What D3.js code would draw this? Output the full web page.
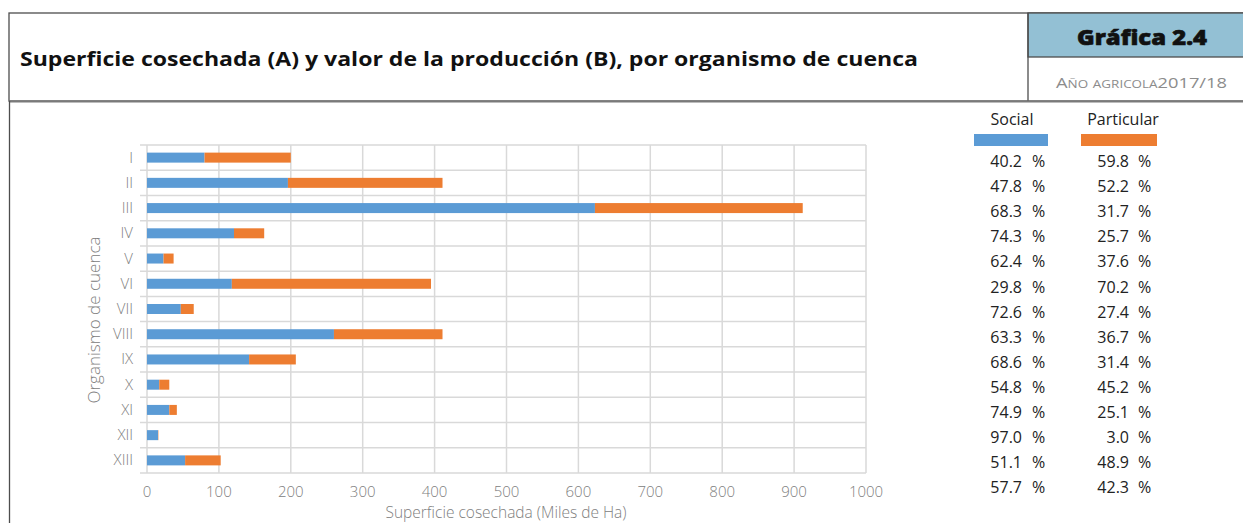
<!DOCTYPE html>
<html>
<head>
<meta charset="utf-8">
<script src="https://cdn.jsdelivr.net/npm/d3@7"></script>
<style>
  body { margin: 0; background: #fff; }
  svg { display: block; font-family: "Open Sans", "Noto Sans", sans-serif; }
</style>
</head>
<body>
<svg id="chart" width="1243" height="523"></svg>
<script>
// organismos de cuenca
const cuencas = ['I','II','III','IV','V','VI','VII','VIII','IX','X','XI','XII','XIII']
// superficie cosechada, miles de ha
const social     = [80, 196, 623, 121, 23, 118, 47, 260, 142, 17, 31, 15.3, 53]
const particular = [120, 215, 289, 42, 14, 277, 18, 151, 65, 14, 10.5, 0.5, 49.5]
// porcentajes del valor de la producción
const socialPct     = [40.2, 47.8, 68.3, 74.3, 62.4, 29.8, 72.6, 63.3, 68.6, 54.8, 74.9, 97.0, 51.1, 57.7]
const particularPct = [59.8, 52.2, 31.7, 25.7, 37.6, 70.2, 27.4, 36.7, 31.4, 45.2, 25.1, 3.0, 48.9, 42.3]
const xTicks = [0,100,200,300,400,500,600,700,800,900,1000]

const colors = {social: '#5B9BD5', particular: '#ED7D31'}
const svg = d3.select('#chart')

// ---- header box ----
const border = '#4d4d4d'
svg.append('rect').attr('x', 9).attr('y', 13).attr('width', 1240).attr('height', 88)
   .attr('fill', 'none').attr('stroke', border).attr('stroke-width', 1.3)
svg.append('rect').attr('x', 1028).attr('y', 13).attr('width', 220).attr('height', 44)
   .attr('fill', '#93C0D4').attr('stroke', border).attr('stroke-width', 1.3)
svg.append('line').attr('x1', 1028).attr('x2', 1028).attr('y1', 13).attr('y2', 101)
   .attr('stroke', border).attr('stroke-width', 1.3)
svg.append('line').attr('x1', 9).attr('x2', 1243).attr('y1', 101.5).attr('y2', 101.5)
   .attr('stroke', '#7a7a7a').attr('stroke-width', 2)
svg.append('line').attr('x1', 9.5).attr('x2', 9.5).attr('y1', 101).attr('y2', 523)
   .attr('stroke', border).attr('stroke-width', 1.3)

svg.append('text').attr('x', 20).attr('y', 66)
   .attr('font-size', 19).attr('font-weight', 700).attr('fill', '#111')
   .attr('textLength', 898).attr('lengthAdjust', 'spacingAndGlyphs')
   .text('Superficie cosechada (A) y valor de la producción (B), por organismo de cuenca')
svg.append('text').attr('x', 1077).attr('y', 45)
   .attr('font-family', '"Open Sans", sans-serif')
   .attr('font-size', 21).attr('font-weight', 800).attr('fill', '#111')
   .attr('stroke', '#111').attr('stroke-width', 0.6)
   .attr('textLength', 130).attr('lengthAdjust', 'spacingAndGlyphs')
   .text('Gráfica 2.4')
svg.append('text').attr('x', 1056).attr('y', 88)
   .attr('font-size', 15).attr('fill', '#8c8c8c').style('font-variant', 'small-caps')
   .attr('textLength', 171).attr('lengthAdjust', 'spacingAndGlyphs')
   .text('Año agricola2017/18')

// ---- chart ----
const x = d3.scaleLinear().domain([0, 1000]).range([147, 866])
const y = d3.scaleBand().domain(cuencas).range([145, 473])
const barH = 10
const grid = '#d9d9d9', tickCol = '#808080'

const g = svg.append('g')
g.selectAll('line.v').data(xTicks).join('line').attr('class', 'v')
 .attr('x1', d => x(d)).attr('x2', d => x(d)).attr('y1', 145).attr('y2', 473)
 .attr('stroke', grid).attr('stroke-width', 1.5)
g.selectAll('line.h').data([...cuencas.map(c => y(c)), 473]).join('line').attr('class', 'h')
 .attr('x1', 140).attr('x2', 866).attr('y1', d => d).attr('y2', d => d)
 .attr('stroke', grid).attr('stroke-width', 1.5)

const rows = cuencas.map((c, i) => ({cuenca: c, social: social[i], particular: particular[i]}))
const series = d3.stack().keys(['social', 'particular'])(rows)
g.selectAll('g.s').data(series).join('g').attr('class', 's')
 .attr('fill', d => colors[d.key])
 .selectAll('rect').data(d => d).join('rect')
 .attr('x', d => x(d[0])).attr('width', d => x(d[1]) - x(d[0]))
 .attr('y', d => y(d.data.cuenca) + (y.bandwidth() - barH) / 2).attr('height', barH)

// category labels
g.selectAll('text.cat').data(cuencas).join('text').attr('class', 'cat')
 .attr('x', 133).attr('y', d => y(d) + y.bandwidth() / 2 + 5)
 .attr('text-anchor', 'end').attr('font-size', 15).attr('font-weight', 300)
 .attr('fill', tickCol).text(d => d)
// x tick labels
g.selectAll('text.xt').data(xTicks).join('text').attr('class', 'xt')
 .attr('x', d => x(d)).attr('y', 497)
 .attr('text-anchor', 'middle').attr('font-size', 15).attr('font-weight', 300)
 .attr('fill', tickCol).text(d => d)

svg.append('text').attr('x', 506).attr('y', 518).attr('text-anchor', 'middle')
   .attr('font-size', 15.5).attr('font-weight', 300).attr('fill', tickCol)
   .text('Superficie cosechada (Miles de Ha)')
svg.append('text').attr('transform', 'translate(100,320) rotate(-90)').attr('text-anchor', 'middle')
   .attr('font-size', 17).attr('font-weight', 300).attr('fill', tickCol).text('Organismo de cuenca')

// ---- legend + percent table ----
const legend = [
  {name: 'Social', cx: 1012, x0: 974, x1: 1048, numX: 1022, pctX: 1032, vals: socialPct, key: 'social'},
  {name: 'Particular', cx: 1123, x0: 1081, x1: 1157, numX: 1129, pctX: 1138, vals: particularPct, key: 'particular'}
]
const tg = svg.append('g').attr('font-size', 16).attr('fill', '#222')
legend.forEach(l => {
  tg.append('text').attr('x', l.cx).attr('y', 125).attr('text-anchor', 'middle').text(l.name)
  tg.append('rect').attr('x', l.x0).attr('y', 134).attr('width', l.x1 - l.x0).attr('height', 12)
    .attr('fill', colors[l.key])
  tg.selectAll(null).data(l.vals).join('text')
    .attr('x', l.numX).attr('y', (d, i) => 167 + i * 25.1).attr('text-anchor', 'end')
    .text(d => d.toFixed(1))
  tg.selectAll(null).data(l.vals).join('text')
    .attr('x', l.pctX).attr('y', (d, i) => 167 + i * 25.1).text('%')
})
</script>
</body>
</html>
